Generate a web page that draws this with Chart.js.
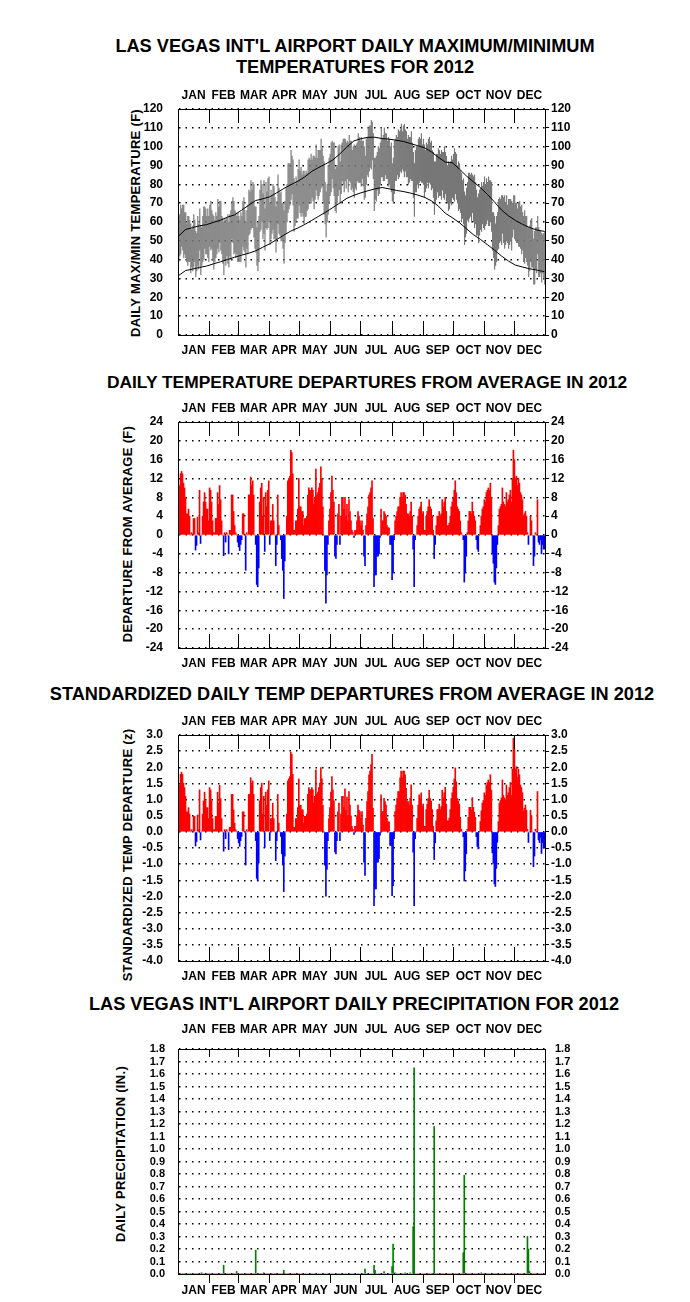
<!DOCTYPE html>
<html>
<head>
<meta charset="utf-8">
<script src="https://cdn.jsdelivr.net/npm/chart.js@4.4.1/dist/chart.umd.min.js"></script>
<style>
  body { margin: 0; background: #fff; width: 690px; height: 1302px; position: relative; overflow: hidden; font-family: "Liberation Sans", Arial, sans-serif; }
  canvas { position: absolute; left: 0; }
  .title { position: absolute; text-align: center; font-weight: bold; font-size: 18.2px; line-height: 21px; color: #000; white-space: nowrap; }
  .ytitle { position: absolute; font-weight: bold; font-size: 13px; letter-spacing: 0.3px; white-space: nowrap; transform: translate(-50%, -50%) rotate(-90deg); color: #000; }
</style>
</head>
<body>
<div class="title" style="left:0;width:710px;top:36px">LAS VEGAS INT'L AIRPORT DAILY MAXIMUM/MINIMUM<br>TEMPERATURES FOR 2012</div>
<div class="title" style="left:0;width:734px;top:372px;font-size:17.4px">DAILY TEMPERATURE DEPARTURES FROM AVERAGE IN 2012</div>
<div class="title" style="left:0;width:704px;top:684px">STANDARDIZED DAILY TEMP DEPARTURES FROM AVERAGE IN 2012</div>
<div class="title" style="left:0;width:708px;top:994px">LAS VEGAS INT'L AIRPORT DAILY PRECIPITATION FOR 2012</div>

<div class="ytitle" style="left:135px;top:223px">DAILY MAX/MIN TEMPERATURE (F)</div>
<div class="ytitle" style="left:127px;top:534px">DEPARTURE FROM AVERAGE (F)</div>
<div class="ytitle" style="left:127px;top:855px">STANDARDIZED TEMP DEPARTURE (z)</div>
<div class="ytitle" style="left:120px;top:1154px">DAILY PRECIPITATION (IN.)</div>

<canvas id="tempChart" width="690" height="278" style="top:83px"></canvas>
<canvas id="depChart" width="690" height="278" style="top:396px"></canvas>
<canvas id="zChart" width="690" height="278" style="top:709px"></canvas>
<canvas id="precipChart" width="690" height="277" style="top:1023px"></canvas>

<script>
const FONT = '"Liberation Sans", Arial, sans-serif';
const MONTHS = ["JAN", "FEB", "MAR", "APR", "MAY", "JUN", "JUL", "AUG", "SEP", "OCT", "NOV", "DEC"];
const monthStart = [0, 31, 60, 91, 121, 152, 182, 213, 244, 274, 305, 335, 366];

// daily max / min temperatures (F), Jan 1 .. Dec 31 2012
const dailyMax = [
  63,64,69,67,69,69,65,65,59,63, 63,61,59,56,58,64,61,55,54,63,
  59,67,58,57,63,68,68,67,63,67, 63,69,71,66,64,63,61,65,63,72,
  68,71,71,63,62,60,62,61,62,64, 60,64,66,71,73,71,66,65,63,65,
  63,61,65,63,71,73,66,60,66,69, 77,76,82,77,81,80,68,68,57,60,
  63,77,82,80,75,82,67,81,76,83, 84,70,77,74,80,79,73,68,71,85,
  78,75,76,70,70,66,71,78,80,91, 91,91,98,95,93,83,80,84,82,88,
  93,87,89,85,87,87,85,87,86,93, 94,93,96,93,95,95,94,101,94,98,
  98,98,104,99,95,92,81,76,80,90, 94,96,102,103,102,102,88,89,90,100,
  101,92,101,102,104,104,104,102,103,102, 106,103,103,98,100,101,100,101,102,107,
  105,103,105,103,103,100,95,104,105,110, 111,111,114,113,107,94,94,95,97,100,
  99,102,110,104,106,110,107,107,103,105, 104,100,102,91,94,103,104,106,105,109,
  108,109,112,108,111,112,109,108,104,106, 105,105,108,102,97,91,98,100,100,104,
  105,104,107,101,104,101,98,102,101,104, 105,102,103,98,97,92,92,96,96,99,
  98,96,98,97,97,100,97,95,90,92, 91,92,95,93,96,99,97,96,90,92,
  91,87,86,82,83,76,74,78,81,86, 86,85,86,85,84,85,81,77,73,75,
  77,78,81,79,81,84,80,83,81,84, 82,82,81,65,65,63,59,63,65,72,
  73,72,74,74,73,74,70,74,69,72, 72,72,71,70,74,74,70,70,67,70,
  71,68,69,65,63,66,63,63,57,57, 58,61,62,56,51,55,57,57,63,57,
  55,55,54,53,54,55
];
const dailyMin = [
  39,42,43,47,45,41,43,41,39,37, 39,39,33,36,34,36,39,31,34,37,
  35,45,32,37,39,40,46,43,43,41, 39,47,45,46,40,35,39,41,43,46,
  44,49,45,43,38,32,40,37,42,38, 36,42,40,51,49,43,44,41,43,39,
  39,39,39,43,47,45,44,36,46,43, 53,54,56,57,57,52,46,44,37,34,
  39,55,56,60,51,54,45,57,56,57, 60,48,51,54,56,51,51,44,51,59,
  54,53,50,50,46,38,49,54,60,65, 67,69,72,75,69,55,58,60,62,62,
  69,65,63,65,63,59,63,63,66,67, 70,71,70,73,71,67,72,77,74,72,
  74,76,78,79,71,64,59,52,60,64, 70,74,76,83,78,74,66,65,70,74,
  77,70,75,82,80,76,82,78,83,76, 82,81,77,78,76,73,78,77,82,81,
  81,81,79,83,79,72,73,80,85,84, 87,89,88,93,83,66,72,71,77,74,
  75,80,84,84,82,82,85,83,83,79, 80,78,76,71,70,75,82,82,85,83,
  84,87,86,88,87,84,87,84,84,80, 81,83,82,82,73,63,76,76,80,78,
  81,82,81,81,80,73,76,78,81,78, 81,80,77,78,73,64,70,72,76,73,
  74,74,72,77,73,72,75,71,70,66, 67,70,69,73,72,71,75,72,70,66,
  67,65,60,62,59,48,52,54,61,60, 62,63,60,65,60,57,59,53,53,49,
  53,56,55,59,57,56,58,59,61,58, 58,60,55,45,41,35,37,39,45,46,
  49,50,48,54,49,46,48,50,49,46, 48,50,45,52,56,51,50,49,49,47,
  47,46,43,45,39,38,41,39,37,31, 34,39,36,36,27,27,35,33,43,31,
  31,33,28,33,30,27
];

// normal max / min (F) at sampled days
const normDays = [0,7,14,21,28,35,42,49,56,63,70,77,84,91,98,105,112,119,126,133,140,147,154,161,168,175,182,
  189,196,203,210,217,224,231,238,245,252,259,266,273,280,287,294,301,308,315,322,329,336,343,350,357,365];
const normMax = [52.5,56,57,58,58.6,59.8,61,62.6,63.8,66.3,68.9,71.4,72.3,73.4,75.5,77.8,79.8,81.6,84,86.9,89,90.9,93,96.2,99.9,103.1,104.2,
  105,105,104.3,104,103.4,102.8,101.7,100.6,99.5,97.3,94.4,91.8,91.5,88.2,84.5,81.4,78.3,74.7,70.7,66.4,63.3,60.8,58.8,57.1,55.8,55];
const normMin = [31.5,34.2,35,35.9,36.6,37.8,38.9,40.1,41.3,42.4,43.4,44.7,46.6,48.4,50.7,53,55.2,56.8,58.7,60.9,63.1,65.3,67.7,70.1,72.6,74.2,75.5,
  76.6,77.6,78.3,77.6,76.8,76.2,75.4,74.4,73.2,71.3,68.5,64.7,62.3,59.7,56.5,53.3,50.8,48,45.1,42,39.3,37.1,36.1,35.2,34.5,33.6];

// daily departure from average (F)
const departure = [
  8.5,10.5,13,13.5,13,11,10,8,4.5,4.5, 5.5,4,0,0.5,0,3.5,3.5,-3.2,-2.2,3.8,
  0.5,9.5,-1.8,0,4,7,9,7,5.5,5.5, 3,10,9.5,7,3,0.5,0.5,3.5,3.5,9,
  6.5,10.5,7.5,3,0,-4.4,0.5,-1.5,0.5,0, -4,1,1,8.5,8.5,5,2,0.5,0,-1.5,
  -2.5,-3.3,-2,-1,4.5,4.5,0,-7.5,0.5,0, 8.5,8.5,12.3,10.5,11.5,8.5,0,-2,-10.5,-11,
  -7,7,10,11,4,8,-3.5,9,6,9.5, 11.5,-2,3,3,6.5,3,0,-6.5,-2,8.5,
  2,0,-1,-5,-7.5,-13.5,-5.5,0,4,11.5, 12,12.5,18,17.5,13,1,1,3,3,5.5,
  12,6,6,5,5,2,3.5,3.5,4,8.5, 10,9.5,9.5,10,9.5,6.5,8,14,8.5,9,
  10,11,14.5,12,6,0,-7.5,-14.5,-8.5,-2, 3,5.5,9,12.5,9.5,7,-4.5,-5,-2,4.5,
  6.5,-2,4,8,8,5.5,8,4,6.5,3, 7.5,5,3,1,0.5,-0.5,1,1,3,5,
  4,3,2,3,1,-4.5,-6.5,2,4.5,6, 8.5,9,10,11.5,3.5,-11,-8.5,-8.5,-4.5,-4.5,
  -4,-0.5,5.5,3,3,5,4.5,4,2,1.5, 1.5,-2,-2,-9.5,-8,-1,3,4,5,6,
  6,8,9,8,9,9,8.5,6.5,4.5,4.5, 4,5,7,4,-3,-11,-1,0,2,4,
  5.5,6,7,4.5,5,1,1,4,5,6, 7.5,6,5.5,4,1,-5,-2,2,4,4,
  5,4,4.5,7.5,6,7,8,5,2,2, 2.5,4,6,7,8,9.5,11.5,9,6,5.5,
  5,3,0.5,0,-1,-10,-8,-4.5,0.5,3, 5,5,4.5,7,5,4,3,-1,-3,-3.5,
  0,2,4,5.5,6,7.5,7,9,9.5,10, 9.5,11,8,-4,-6,-10,-10.5,-7,-2,2,
  5.5,6,6.5,10,7,6.5,6,9,7,7.5, 8.5,9.5,7,12,18,16,12,12.5,10.5,12,
  11,9,8.5,7.5,4,4.5,5,4,0.5,-2, 0,4,3,0,-6.5,-4.5,0.5,0,7.5,-1.5,
  -2,-1,-4,-2,-3,-3
];

// standardized daily departure (z)
const standardized = [
  1.16,1.44,1.78,1.85,1.78,1.51,1.37,1.1,0.62,0.62, 0.75,0.55,0,0.07,0,0.48,0.48,-0.44,-0.3,0.52,
  0.07,1.3,-0.25,0,0.55,0.96,1.23,0.96,0.75,0.75, 0.41,1.37,1.3,0.96,0.41,0.07,0.07,0.48,0.48,1.23,
  0.89,1.44,1.03,0.41,0,-0.6,0.07,-0.21,0.07,0, -0.55,0.14,0.14,1.16,1.16,0.68,0.27,0.07,0,-0.21,
  -0.34,-0.45,-0.27,-0.14,0.62,0.62,0,-1.03,0.07,0, 1.16,1.16,1.68,1.44,1.58,1.16,0,-0.27,-1.44,-1.51,
  -0.96,0.96,1.37,1.51,0.55,1.1,-0.48,1.23,0.82,1.3, 1.58,-0.27,0.41,0.41,0.89,0.41,0,-0.89,-0.27,1.16,
  0.27,0,-0.14,-0.68,-1.03,-1.85,-0.75,0,0.55,1.58, 1.64,1.71,2.47,2.4,1.78,0.14,0.14,0.41,0.41,0.75,
  1.64,0.82,0.82,0.68,0.68,0.27,0.48,0.48,0.55,1.16, 1.37,1.3,1.3,1.37,1.3,0.89,1.1,1.92,1.16,1.23,
  1.37,1.51,1.99,1.64,0.82,0,-1.03,-1.99,-1.16,-0.27, 0.41,0.75,1.23,1.71,1.3,0.96,-0.62,-0.68,-0.27,0.62,
  0.89,-0.27,0.55,1.1,1.1,0.75,1.33,0.67,1.08,0.5, 1.25,0.83,0.5,0.17,0.08,-0.08,0.17,0.17,0.5,0.83,
  0.67,0.63,0.42,0.63,0.21,-0.94,-1.35,0.42,0.94,1.25, 1.77,1.88,2.08,2.4,0.73,-2.29,-1.77,-1.77,-0.94,-0.94,
  -0.83,-0.1,1.15,0.63,0.63,1.04,0.94,0.83,0.42,0.31, 0.31,-0.42,-0.42,-1.98,-1.67,-0.21,0.63,0.83,1.04,1.25,
  1.25,1.67,1.88,1.67,1.88,1.88,1.77,1.35,0.94,0.94, 0.83,1.04,1.46,0.83,-0.63,-2.29,-0.21,0,0.42,0.83,
  1.15,1.03,1.21,0.78,0.86,0.17,0.17,0.69,0.86,1.03, 1.29,1.03,0.95,0.69,0.17,-0.86,-0.34,0.34,0.69,0.69,
  0.86,0.69,0.78,1.29,1.03,1.21,1.38,0.86,0.34,0.34, 0.43,0.69,1.03,1.21,1.38,1.64,1.98,1.55,1.03,0.95,
  0.86,0.45,0.08,0,-0.15,-1.52,-1.21,-0.68,0.08,0.45, 0.76,0.76,0.68,1.06,0.76,0.61,0.45,-0.15,-0.45,-0.53,
  0,0.32,0.65,0.89,0.97,1.21,1.13,1.45,1.53,1.61, 1.53,1.77,1.29,-0.65,-0.97,-1.61,-1.69,-1.13,-0.32,0.32,
  0.89,0.97,1.05,1.61,1.13,1.05,0.97,1.45,1.13,1.21, 1.37,1.53,1.13,1.94,2.9,2.58,1.94,2.02,1.69,1.94,
  1.77,1.45,1.37,1.21,0.65,0.73,0.83,0.67,0.08,-0.33, 0,0.67,0.5,0,-1.08,-0.75,0.08,0,1.25,-0.25,
  -0.33,-0.17,-0.67,-0.33,-0.5,-0.5
];

// days (0 = Jan 1) with measurable precipitation, and amounts (in.)
const precipDays = [23, 45, 58, 77, 85, 105, 186, 195, 196, 205, 213, 214, 216, 226, 231, 234, 235, 255, 284, 285, 302, 348, 349, 350];
const precipAmounts = [0.01, 0.07, 0.02, 0.19, 0.01, 0.03, 0.04, 0.07, 0.03, 0.02, 0.06, 0.24, 0.01, 0.01, 0.01, 0.38, 1.65, 1.18, 0.17, 0.79, 0.01, 0.30, 0.20, 0.02];

const days = dailyMax.map((_, i) => i + 1);
const monthMid = MONTHS.map((m, i) => (monthStart[i] + monthStart[i + 1]) / 2);

// short month boundary marks along the frame
const monthTicks = {
  id: "monthTicks",
  afterDatasetsDraw(chart, args, opts) {
    const { ctx, chartArea: a } = chart;
    const sx = chart.scales.mb;
    ctx.save();
    ctx.strokeStyle = "#000";
    ctx.lineWidth = 1;
    monthStart.slice(1, 12).forEach(d => {
      const x = Math.round(sx.getPixelForValue(d)) + 0.5;
      ctx.beginPath();
      ctx.moveTo(x, a.top);
      ctx.lineTo(x, a.top + opts.top);
      ctx.moveTo(x, a.bottom + opts.bottomOut);
      ctx.lineTo(x, a.bottom - opts.bottomIn);
      ctx.stroke();
    });
    ctx.restore();
  }
};

function monthAxis(pos, h, pad) {
  return {
    type: "linear", position: pos, min: 0, max: 366, offset: false,
    grid: { display: false, drawTicks: false, tickLength: 0 },
    border: { display: true, color: "#000", width: 1, z: 1 },
    afterBuildTicks: s => { s.ticks = monthMid.map(v => ({ value: v })); },
    afterFit: s => { s.height = h; },
    ticks: {
      autoSkip: false, maxRotation: 0, padding: pad, color: "#000",
      font: { family: FONT, weight: "bold", size: 12 },
      callback: (v, i) => MONTHS[i]
    }
  };
}

function panelOptions(p) {
  const tickFont = p.tickFont || { family: FONT, weight: "bold", size: 12 };
  const fmt = p.fmt || (v => v);
  return {
    responsive: false,
    animation: false,
    events: [],
    layout: { padding: 0 },
    plugins: {
      legend: { display: false },
      tooltip: { enabled: false },
      monthTicks: p.marks
    },
    scales: {
      x: { type: "category", display: false, offset: true },
      mt: monthAxis("top", p.topH, p.topPad),
      mb: monthAxis("bottom", p.botH, p.botPad),
      y: {
        type: "linear", position: "left", min: p.min, max: p.max,
        grid: { color: "#000", lineWidth: 1.5, drawTicks: false },
        border: { display: true, color: "#000", width: 1, dash: [1.5, 5], z: 1 },
        afterFit: s => { s.width = 178; },
        ticks: { stepSize: p.step, padding: p.padL, color: "#000", font: tickFont, autoSkip: false, callback: fmt }
      },
      y2: {
        type: "linear", position: "right", min: p.min, max: p.max,
        grid: { drawOnChartArea: false, drawTicks: p.rightTicks, tickLength: 4, color: "#000" },
        border: { display: true, color: "#000", width: 1, z: 1 },
        afterFit: s => { s.width = 145; },
        ticks: { stepSize: p.step, padding: p.padR, color: "#000", font: tickFont, autoSkip: false, callback: fmt }
      }
    }
  };
}

const stdMarks = { top: 14, bottomIn: 14, bottomOut: 0 };

// Panel 1: daily max/min with normals
new Chart(document.getElementById("tempChart"), {
  type: "bar",
  data: {
    labels: days,
    datasets: [
      {
        type: "line", xAxisID: "mb", order: 0,
        data: normDays.map((d, i) => ({ x: d + 0.5, y: normMax[i] })),
        borderColor: "#000", borderWidth: 1, pointRadius: 0, tension: 0
      },
      {
        type: "line", xAxisID: "mb", order: 0,
        data: normDays.map((d, i) => ({ x: d + 0.5, y: normMin[i] })),
        borderColor: "#000", borderWidth: 1, pointRadius: 0, tension: 0
      },
      {
        order: 1,
        data: dailyMin.map((lo, i) => [lo, dailyMax[i]]),
        backgroundColor: "#777777", borderWidth: 0,
        barPercentage: 1, categoryPercentage: 1
      }
    ]
  },
  options: panelOptions({ min: 0, max: 120, step: 10, topH: 26, topPad: 6, botH: 26, botPad: 8, padL: 15, padR: 2, rightTicks: true, marks: stdMarks }),
  plugins: [monthTicks]
});

// Panel 2: departures
new Chart(document.getElementById("depChart"), {
  type: "bar",
  data: {
    labels: days,
    datasets: [{
      data: departure,
      backgroundColor: departure.map(v => v >= 0 ? "#ff0000" : "#0000ff"),
      borderWidth: 0, barPercentage: 1, categoryPercentage: 1
    }]
  },
  options: panelOptions({ min: -24, max: 24, step: 4, topH: 26, topPad: 6, botH: 26, botPad: 8, padL: 15, padR: 2, rightTicks: true, marks: stdMarks }),
  plugins: [monthTicks]
});

// Panel 3: standardized departures
new Chart(document.getElementById("zChart"), {
  type: "bar",
  data: {
    labels: days,
    datasets: [{
      data: standardized,
      backgroundColor: standardized.map(v => v >= 0 ? "#ff0000" : "#0000ff"),
      borderWidth: 0, barPercentage: 1, categoryPercentage: 1
    }]
  },
  options: panelOptions({ min: -4, max: 3, step: 0.5, topH: 26, topPad: 6, botH: 26, botPad: 8, padL: 15, padR: 2, rightTicks: true,
    marks: stdMarks, fmt: v => Number(v).toFixed(1) }),
  plugins: [monthTicks]
});

// Panel 4: precipitation
const precip = days.map(() => 0);
precipDays.forEach((d, i) => { precip[d] = precipAmounts[i]; });

new Chart(document.getElementById("precipChart"), {
  type: "bar",
  data: {
    labels: days,
    datasets: [{
      data: precip,
      backgroundColor: "#008000",
      borderWidth: 0, barPercentage: 1, categoryPercentage: 1
    }]
  },
  options: panelOptions({ min: 0, max: 1.8, step: 0.1, topH: 26, topPad: 12, botH: 26, botPad: 9, padL: 13, padR: 10, rightTicks: false,
    marks: { top: 8, bottomIn: 0, bottomOut: 9 }, fmt: v => Number(v).toFixed(1),
    tickFont: { family: FONT, weight: "bold", size: 11 } }),
  plugins: [monthTicks]
});
</script>
</body>
</html>
